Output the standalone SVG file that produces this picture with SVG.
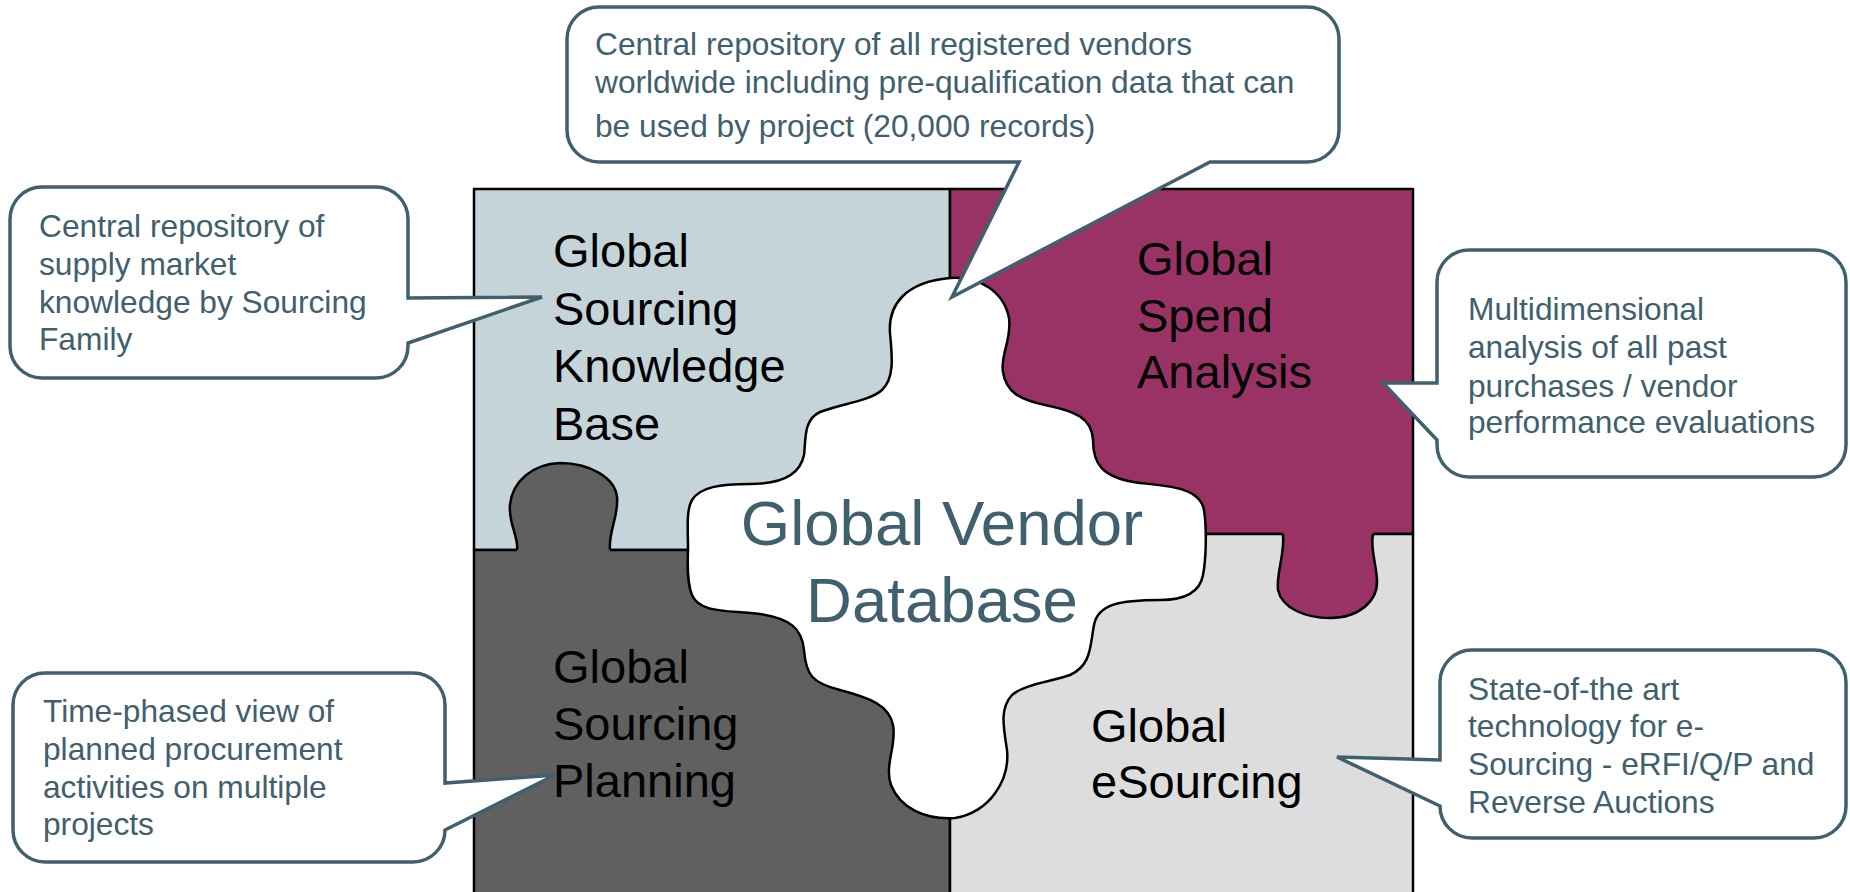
<svg xmlns="http://www.w3.org/2000/svg" width="1850" height="892" viewBox="0 0 1850 892">
<defs>
<style>
.piece{stroke:#000;stroke-width:2.5;stroke-linejoin:round}
.edge{fill:none;stroke:#000;stroke-width:2.5;stroke-linejoin:round}
.lbl{font-family:"Liberation Sans",Arial,sans-serif;font-size:47px;fill:#000}
.center{font-family:"Liberation Sans",Arial,sans-serif;font-size:63.5px;fill:#40606E;text-anchor:middle}
.callout{fill:#fff;stroke:#40606E;stroke-width:3.5;stroke-linejoin:miter}
.ctext{font-family:"Liberation Sans",Arial,sans-serif;font-size:31.7px;fill:#40606E}
</style>
</defs>
<rect width="1850" height="892" fill="#fff"/>

<g id="piece-knowledge-base">
<rect class="piece" x="474" y="189" width="476" height="361" fill="#C5D4D8"/>
</g>
<g id="piece-spend-analysis">
<rect class="piece" x="950" y="189" width="463" height="345" fill="#993366"/>
</g>
<g id="piece-sourcing-planning">
<rect class="piece" x="474" y="550" width="476" height="350" fill="#606060"/>
<path d="M517,553 L517,550 C519,538 508,522 510,505 C512,482 532,464 560,463 C590,463 615,478 617,497 C619,516 608,532 610,550 L610,553 Z" fill="#606060"/>
<path class="edge" d="M517,550 C519,538 508,522 510,505 C512,482 532,464 560,463 C590,463 615,478 617,497 C619,516 608,532 610,550"/>
</g>
<g id="piece-esourcing">
<rect class="piece" x="950" y="534" width="463" height="366" fill="#DDDDDD"/>
<path d="M1283,531 L1283,534 C1285,555 1276,573 1278,590 C1282,608 1305,618 1330,618 C1360,618 1378,600 1377,580 C1376,562 1370,548 1373,534 L1373,531 Z" fill="#993366"/>
<path class="edge" d="M1283,534 C1285,555 1276,573 1278,590 C1282,608 1305,618 1330,618 C1360,618 1378,600 1377,580 C1376,562 1370,548 1373,534"/>
</g>
<g id="piece-vendor-database">
<path class="piece" fill="#fff" d="M950,278 C980,276 1004,292 1009,318 C1012,340 1000,355 1003,372 C1006,392 1020,400 1045,405 C1075,411 1092,418 1093,440 C1093,462 1100,478 1140,483 C1170,486 1200,488 1204,510 C1207,530 1206,560 1203,575 C1200,592 1185,600 1160,600 C1120,600 1098,604 1094,625 C1090,645 1092,665 1070,675 C1050,682 1025,684 1012,695 C1000,708 1003,725 1007,750 C1010,780 990,812 955,818 C925,820 900,808 891,785 C884,765 897,745 893,725 C889,705 870,698 840,690 C812,683 806,675 804,650 C802,628 790,619 760,614 C730,610 700,614 692,595 C686,580 688,560 688,548 C688,530 686,510 692,500 C700,487 720,484 750,484 C780,484 800,475 804,455 C806,440 803,420 820,412 C840,404 870,401 882,390 C895,378 892,355 890,333 C888,305 905,282 950,278 Z"/>
<text class="center" x="942" y="545">Global Vendor</text>
<text class="center" x="942" y="622">Database</text>
</g>

<g id="labels">
<text class="lbl" x="553" y="267">Global</text>
<text class="lbl" x="553" y="325">Sourcing</text>
<text class="lbl" x="553" y="382">Knowledge</text>
<text class="lbl" x="553" y="440">Base</text>
<text class="lbl" x="1137" y="275">Global</text>
<text class="lbl" x="1137" y="332">Spend</text>
<text class="lbl" x="1137" y="388">Analysis</text>
<text class="lbl" x="553" y="683">Global</text>
<text class="lbl" x="553" y="740">Sourcing</text>
<text class="lbl" x="553" y="797">Planning</text>
<text class="lbl" x="1091" y="742">Global</text>
<text class="lbl" x="1091" y="798">eSourcing</text>
</g>

<g id="callout-top">
<path class="callout" d="M599,7 H1307 A32,32 0 0 1 1339,39 V130 A32,32 0 0 1 1307,162 H1210 L952,297 L1019,162 H599 A32,32 0 0 1 567,130 V39 A32,32 0 0 1 599,7 Z"/>
<text class="ctext" x="595" y="55">Central repository of all registered vendors</text>
<text class="ctext" x="595" y="93">worldwide including pre-qualification data that can</text>
<text class="ctext" x="595" y="137">be used by project (20,000 records)</text>
</g>
<g id="callout-knowledge">
<path class="callout" d="M42,187 H376 A32,32 0 0 1 408,219 V298 L542,297 L408,343 V346 A32,32 0 0 1 376,378 H42 A32,32 0 0 1 10,346 V219 A32,32 0 0 1 42,187 Z"/>
<text class="ctext" x="39" y="237">Central repository of</text>
<text class="ctext" x="39" y="275">supply market</text>
<text class="ctext" x="39" y="313">knowledge by Sourcing</text>
<text class="ctext" x="39" y="350">Family</text>
</g>
<g id="callout-planning">
<path class="callout" d="M45,673 H413 A32,32 0 0 1 445,705 V783 L555,775 L445,830 A32,32 0 0 1 413,862 H45 A32,32 0 0 1 13,830 V705 A32,32 0 0 1 45,673 Z"/>
<text class="ctext" x="43" y="722">Time-phased view of</text>
<text class="ctext" x="43" y="760">planned procurement</text>
<text class="ctext" x="43" y="798">activities on multiple</text>
<text class="ctext" x="43" y="835">projects</text>
</g>
<g id="callout-spend">
<path class="callout" d="M1469,250 H1814 A32,32 0 0 1 1846,282 V445 A32,32 0 0 1 1814,477 H1469 A32,32 0 0 1 1437,445 V440 L1383,383 L1437,383 V282 A32,32 0 0 1 1469,250 Z"/>
<text class="ctext" x="1468" y="320">Multidimensional</text>
<text class="ctext" x="1468" y="358">analysis of all past</text>
<text class="ctext" x="1468" y="397">purchases / vendor</text>
<text class="ctext" x="1468" y="433">performance evaluations</text>
</g>
<g id="callout-esourcing">
<path class="callout" d="M1472,650 H1814 A32,32 0 0 1 1846,682 V806 A32,32 0 0 1 1814,838 H1472 A32,32 0 0 1 1440,806 L1337,757 L1440,760 V682 A32,32 0 0 1 1472,650 Z"/>
<text class="ctext" x="1468" y="700">State-of-the art</text>
<text class="ctext" x="1468" y="737">technology for e-</text>
<text class="ctext" x="1468" y="775">Sourcing - eRFI/Q/P and</text>
<text class="ctext" x="1468" y="813">Reverse Auctions</text>
</g>
</svg>
